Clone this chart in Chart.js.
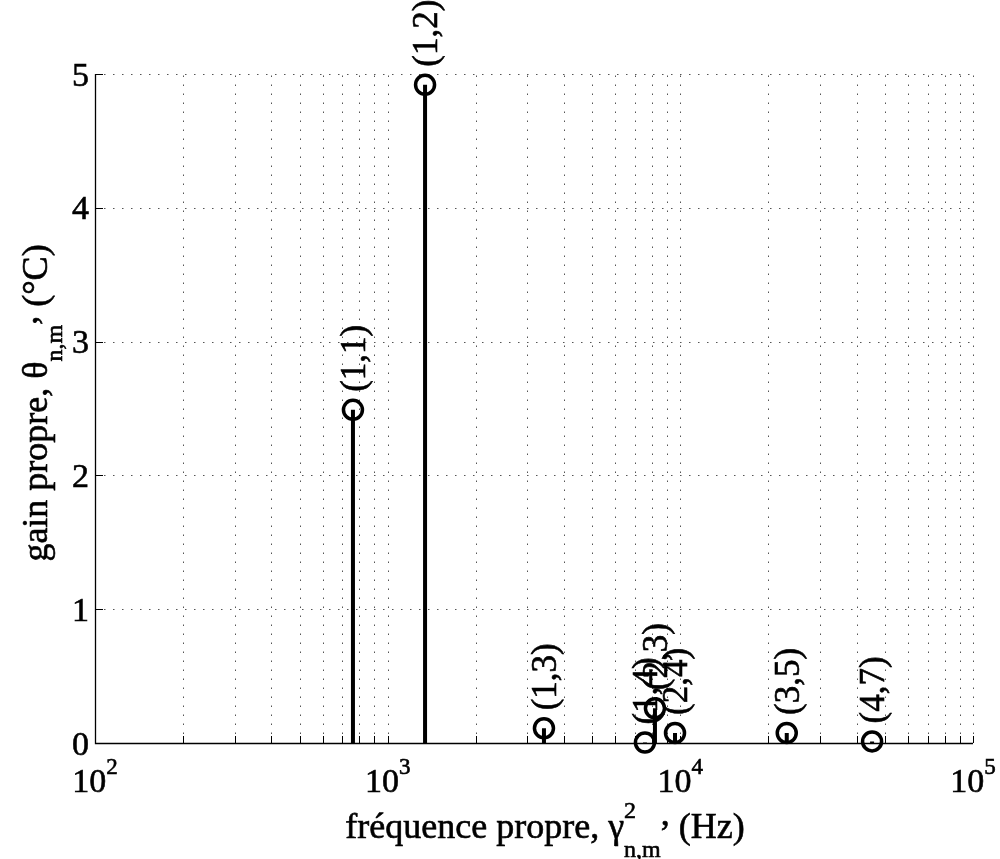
<!DOCTYPE html>
<html>
<head>
<meta charset="utf-8">
<title>gain propre</title>
<script src="https://cdn.jsdelivr.net/npm/chart.js@4.4.1/dist/chart.umd.min.js"></script>
<style>
  html, body { margin: 0; background: #fff; }
  canvas { display: block; }
</style>
</head>
<body>
<canvas id="chart" width="1000" height="859"></canvas>
<script>
// mode (n,m), eigenfrequency (Hz), eigen gain (°C)
const modeLabels = ["(1,1)", "(1,2)", "(1,3)", "(1,4)", "(2,3)", "(2,4)", "(3,5)", "(4,7)"];
const modeFreqs = [761, 1342, 3420, 7570, 8190, 9590, 23100, 45200];
const modeGains = [2.49, 4.92, 0.11, 0.004, 0.26, 0.075, 0.075, 0.012];

const xDecades = [2, 3, 4, 5];             // 10^2 .. 10^5
const xMinorSteps = [2, 3, 4, 5, 6, 7, 8, 9];
const yTicks = [0, 1, 2, 3, 4, 5];

const FONT = '"Liberation Serif", "Times New Roman", serif';
const canvas = document.getElementById("chart");

// build tick values from the decade list
const xMajor = xDecades.map(d => Math.pow(10, d));
const xMinor = [];
xDecades.slice(0, -1).forEach(d => {
  xMinorSteps.forEach(s => xMinor.push(s * Math.pow(10, d)));
});

// stems: (f,0) -> (f,g), gap between them
const stemData = [];
modeFreqs.forEach((f, i) => {
  stemData.push({ x: f, y: 0 }, { x: f, y: modeGains[i] }, { x: f, y: null });
});
const markerData = modeFreqs.map((f, i) => ({ x: f, y: modeGains[i] }));

function setFont(ctx, size) {
  ctx.font = size + "px " + FONT;
}

// slightly heavier text, closer to the exported figure
function text(ctx, s, x, y) {
  ctx.fillText(s, x, y);
  ctx.strokeText(s, x, y);
}

// label like "text, X^sup_sub, tail" centred at x
function drawTexLabel(ctx, head, sup, sub, tail, x, y, big, small, supDy, subDy, commaDy) {
  setFont(ctx, big);
  const wHead = ctx.measureText(head).width;
  const wComma = ctx.measureText(",").width;
  const wTail = ctx.measureText(tail).width;
  setFont(ctx, small);
  const wSup = sup ? ctx.measureText(sup).width : 0;
  const wSub = ctx.measureText(sub).width;
  const wMid = Math.max(wSup, wSub);
  let cx = x - (wHead + wMid + wComma + wTail) / 2;

  setFont(ctx, big);
  text(ctx, head, cx, y);
  cx += wHead;
  setFont(ctx, small);
  if (sup) text(ctx, sup, cx, y + supDy);
  text(ctx, sub, cx, y + subDy);
  cx += wMid;
  setFont(ctx, big);
  text(ctx, ",", cx, y + commaDy);
  cx += wComma;
  text(ctx, tail, cx, y);
}

const axesPlugin = {
  id: "matlabAxes",
  beforeDatasetsDraw(chart) {
    const { ctx, chartArea: a, scales: { x, y } } = chart;
    ctx.save();

    // dotted grid
    ctx.strokeStyle = "#555";
    ctx.lineWidth = 1;
    ctx.setLineDash([1.5, 7.5]);
    xMajor.concat(xMinor).forEach(v => {
      const px = Math.round(x.getPixelForValue(v)) + 0.5;
      if (px < a.left + 2) return;
      ctx.beginPath();
      ctx.moveTo(px, a.bottom);
      ctx.lineTo(px, a.top);
      ctx.stroke();
    });
    yTicks.forEach(v => {
      if (v === 0) return;
      const py = Math.round(y.getPixelForValue(v)) + 0.5;
      ctx.beginPath();
      ctx.moveTo(a.left, py);
      ctx.lineTo(a.right, py);
      ctx.stroke();
    });
    ctx.setLineDash([]);

    // axis lines
    ctx.strokeStyle = "#000";
    ctx.lineWidth = 1.3;
    ctx.beginPath();
    ctx.moveTo(a.left + 0.5, a.top);
    ctx.lineTo(a.left + 0.5, a.bottom + 0.5);
    ctx.lineTo(a.right, a.bottom + 0.5);
    ctx.stroke();

    // inward ticks
    ctx.lineWidth = 1;
    xMajor.concat(xMinor).forEach(v => {
      const px = Math.round(x.getPixelForValue(v)) + 0.5;
      ctx.beginPath();
      ctx.moveTo(px, a.bottom);
      ctx.lineTo(px, a.bottom - 7);
      ctx.stroke();
    });
    yTicks.forEach(v => {
      const py = Math.round(y.getPixelForValue(v)) + 0.5;
      ctx.beginPath();
      ctx.moveTo(a.left, py);
      ctx.lineTo(a.left + 8, py);
      ctx.stroke();
    });

    // tick labels
    ctx.fillStyle = "#000";
    ctx.strokeStyle = "#000";
    ctx.lineWidth = 0.6;
    ctx.textBaseline = "alphabetic";
    ctx.textAlign = "right";
    setFont(ctx, 34);
    yTicks.forEach(v => {
      const py = y.getPixelForValue(v);
      text(ctx, String(v), a.left - 6, py + 11.5);
    });
    ctx.textAlign = "left";
    xDecades.forEach(d => {
      const px = x.getPixelForValue(Math.pow(10, d));
      setFont(ctx, 34);
      const w1 = ctx.measureText("10").width;
      setFont(ctx, 23);
      const w2 = ctx.measureText(String(d)).width;
      const x0 = px - (w1 + w2) / 2;
      setFont(ctx, 34);
      text(ctx, "10", x0, a.bottom + 49);
      setFont(ctx, 23);
      text(ctx, String(d), x0 + w1, a.bottom + 31);
    });

    // axis titles
    drawTexLabel(ctx, "fréquence propre, γ", "2", "n,m", " (Hz)",
      545, 838, 36, 24, -20, 19, -13);

    ctx.save();
    ctx.translate(47, 403);
    ctx.rotate(-Math.PI / 2);
    drawTexLabel(ctx, "gain propre, θ", "", "n,m", " (°C)",
      0, 0, 36, 24, 0, 15, -10);
    ctx.restore();

    ctx.restore();
  },
  afterDatasetsDraw(chart) {
    const { ctx, scales: { x, y } } = chart;
    ctx.save();
    ctx.fillStyle = "#000";
    ctx.strokeStyle = "#000";
    ctx.lineWidth = 0.6;
    setFont(ctx, 35);
    ctx.textAlign = "left";
    ctx.textBaseline = "middle";
    modeLabels.forEach((lab, i) => {
      const px = x.getPixelForValue(modeFreqs[i]);
      const py = y.getPixelForValue(modeGains[i]);
      ctx.save();
      ctx.translate(px, py - 18);
      ctx.rotate(-Math.PI / 2);
      text(ctx, lab, 0, 3);
      ctx.restore();
    });
    ctx.restore();
  }
};

new Chart(canvas, {
  type: "scatter",
  data: {
    datasets: [
      {
        label: "tiges",
        data: stemData,
        showLine: true,
        spanGaps: false,
        borderColor: "#000",
        borderWidth: 4,
        pointRadius: 0,
        order: 1
      },
      {
        label: "modes",
        data: markerData,
        pointStyle: "circle",
        pointRadius: 9.5,
        pointBorderWidth: 3.5,
        borderColor: "#000",
        backgroundColor: "rgba(0,0,0,0)",
        clip: false,
        order: 0
      }
    ]
  },
  options: {
    responsive: false,
    animation: false,
    events: [],
    layout: { padding: { top: 74, right: 27, left: 0, bottom: 0 } },
    plugins: {
      legend: { display: false },
      tooltip: { enabled: false }
    },
    scales: {
      x: {
        type: "logarithmic",
        min: 100,
        max: 100000,
        afterFit: s => { s.height = 859 - 743; },
        grid: { display: false },
        border: { display: false },
        ticks: { display: false }
      },
      y: {
        type: "linear",
        min: 0,
        max: 5,
        afterFit: s => { s.width = 95; },
        grid: { display: false },
        border: { display: false },
        ticks: { display: false, stepSize: 1 }
      }
    }
  },
  plugins: [axesPlugin]
});
</script>
</body>
</html>
